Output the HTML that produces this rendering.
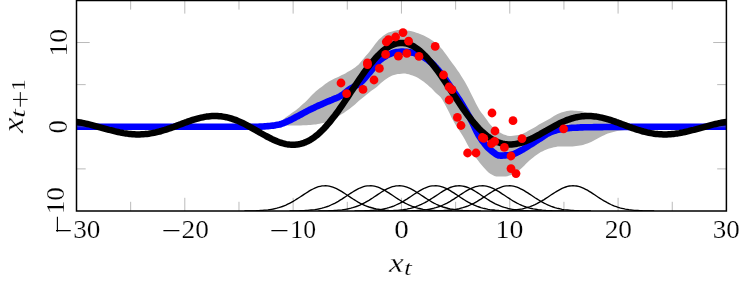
<!DOCTYPE html>
<html><head><meta charset="utf-8"><style>
html,body{margin:0;padding:0;background:#fff}
svg{display:block;position:absolute;left:0;top:0}
text{font-family:"Liberation Serif",serif;fill:#000}
</style></head><body>
<svg width="749" height="285" viewBox="0 0 749 285">
<defs><clipPath id="c"><rect x="76.5" y="0" width="649.9" height="211.0"/></clipPath></defs>
<rect width="749" height="285" fill="#fff"/>
<g clip-path="url(#c)" fill="none">
<path d="M262.0,126.5 L263.9,126.2 L265.7,125.9 L267.6,125.6 L269.4,125.1 L271.3,124.7 L273.2,124.1 L275.0,123.5 L276.9,122.9 L278.7,122.1 L280.6,121.2 L282.5,120.0 L284.3,118.6 L286.2,117.1 L288.0,115.7 L289.9,114.4 L291.7,113.1 L293.6,111.8 L295.5,110.4 L297.3,109.0 L299.2,107.4 L301.0,105.7 L302.9,104.0 L304.8,102.4 L306.6,100.7 L308.5,98.8 L310.3,96.7 L312.2,94.7 L314.1,92.9 L315.9,91.3 L317.8,89.7 L319.6,88.3 L321.5,86.9 L323.4,85.5 L325.2,84.1 L327.1,82.8 L328.9,81.6 L330.8,80.5 L332.7,79.5 L334.5,78.6 L336.4,77.7 L338.2,76.9 L340.1,76.0 L341.9,75.1 L343.8,74.2 L345.7,73.2 L347.5,72.1 L349.4,71.0 L351.2,69.9 L353.1,68.7 L355.0,67.4 L356.8,66.0 L358.7,64.4 L360.5,62.3 L362.4,60.0 L364.3,57.7 L366.1,55.5 L368.0,53.4 L369.8,51.2 L371.7,48.8 L373.6,46.3 L375.4,43.8 L377.3,41.4 L379.1,39.3 L381.0,37.7 L382.9,36.1 L384.7,34.8 L386.6,33.6 L388.4,32.6 L390.3,31.9 L392.2,31.4 L394.0,30.9 L395.9,30.4 L397.7,30.1 L399.6,30.0 L401.4,30.0 L403.3,30.1 L405.2,30.3 L407.0,30.6 L408.9,30.8 L410.7,31.1 L412.6,31.5 L414.5,32.1 L416.3,32.7 L418.2,33.3 L420.0,34.0 L421.9,34.8 L423.8,35.6 L425.6,36.5 L427.5,37.5 L429.3,38.6 L431.2,39.8 L433.1,41.0 L434.9,42.5 L436.8,44.0 L438.6,45.7 L440.5,47.5 L442.4,49.6 L444.2,52.0 L446.1,54.5 L447.9,57.1 L449.8,59.7 L451.6,62.2 L453.5,64.7 L455.4,67.3 L457.2,69.9 L459.1,72.6 L460.9,75.4 L462.8,78.4 L464.7,81.4 L466.5,84.7 L468.4,88.2 L470.2,92.0 L472.1,95.8 L474.0,99.5 L475.8,103.2 L477.7,106.7 L479.5,110.0 L481.4,112.7 L483.3,115.1 L485.1,117.4 L487.0,119.9 L488.8,122.8 L490.7,125.1 L492.6,127.0 L494.4,128.7 L496.3,130.3 L498.1,131.6 L500.0,132.6 L501.8,133.5 L503.7,134.4 L505.6,135.1 L507.4,135.7 L509.3,136.0 L511.1,136.0 L513.0,135.8 L514.9,135.6 L516.7,135.3 L518.6,134.9 L520.4,134.5 L522.3,133.9 L524.2,133.1 L526.0,132.2 L527.9,131.1 L529.7,130.1 L531.6,129.1 L533.5,128.0 L535.3,126.9 L537.2,125.7 L539.0,124.6 L540.9,123.5 L542.8,122.5 L544.6,121.4 L546.5,120.4 L548.3,119.4 L550.2,118.4 L552.1,117.3 L553.9,116.1 L555.8,115.0 L557.6,114.0 L559.5,113.2 L561.3,112.5 L563.2,111.9 L565.1,111.4 L566.9,110.9 L568.8,110.7 L570.6,110.6 L572.5,110.6 L574.4,110.7 L576.2,110.8 L578.1,110.9 L579.9,111.0 L581.8,111.3 L583.7,111.7 L585.5,112.4 L587.4,113.1 L589.2,113.7 L591.1,114.4 L593.0,115.0 L594.8,115.7 L596.7,116.3 L598.5,117.0 L600.4,117.6 L602.3,118.3 L604.1,119.0 L606.0,119.7 L607.8,120.4 L609.7,120.9 L611.5,121.4 L613.4,121.8 L615.3,122.2 L617.1,122.6 L619.0,122.9 L620.8,123.1 L622.7,123.3 L624.6,123.5 L626.4,123.7 L628.3,123.8 L630.1,123.9 L632.0,124.0 L632.0,129.5 L630.1,129.6 L628.3,129.7 L626.4,129.8 L624.6,130.0 L622.7,130.3 L620.8,130.5 L619.0,130.7 L617.1,131.1 L615.3,131.4 L613.4,131.9 L611.5,132.4 L609.7,132.9 L607.8,133.5 L606.0,134.3 L604.1,135.2 L602.3,136.1 L600.4,137.0 L598.5,138.0 L596.7,139.0 L594.8,140.1 L593.0,141.1 L591.1,142.0 L589.2,142.8 L587.4,143.5 L585.5,144.1 L583.7,144.7 L581.8,145.2 L579.9,145.5 L578.1,145.8 L576.2,146.0 L574.4,146.3 L572.5,146.4 L570.6,146.5 L568.8,146.5 L566.9,146.5 L565.1,146.5 L563.2,146.5 L561.3,146.5 L559.5,146.5 L557.6,146.6 L555.8,146.9 L553.9,147.3 L552.1,147.8 L550.2,148.3 L548.3,148.8 L546.5,149.5 L544.6,150.3 L542.8,151.2 L540.9,152.1 L539.0,153.2 L537.2,154.4 L535.3,155.7 L533.5,157.2 L531.6,158.7 L529.7,160.2 L527.9,161.9 L526.0,163.8 L524.2,165.7 L522.3,167.5 L520.4,169.2 L518.6,170.5 L516.7,171.9 L514.9,173.1 L513.0,174.1 L511.1,174.9 L509.3,175.6 L507.4,176.2 L505.6,176.6 L503.7,176.6 L501.8,176.6 L500.0,176.6 L498.1,176.6 L496.3,176.5 L494.4,176.0 L492.6,175.1 L490.7,173.9 L488.8,172.7 L487.0,171.1 L485.1,169.1 L483.3,167.0 L481.4,164.7 L479.5,162.4 L477.7,160.1 L475.8,157.6 L474.0,155.0 L472.1,152.3 L470.2,149.4 L468.4,146.2 L466.5,142.7 L464.7,139.2 L462.8,136.0 L460.9,133.0 L459.1,130.2 L457.2,127.3 L455.4,124.4 L453.5,121.2 L451.6,117.7 L449.8,113.8 L447.9,110.0 L446.1,106.5 L444.2,103.1 L442.4,99.8 L440.5,97.1 L438.6,95.2 L436.8,93.7 L434.9,92.0 L433.1,90.0 L431.2,88.1 L429.3,86.4 L427.5,84.8 L425.6,83.2 L423.8,81.8 L421.9,80.5 L420.0,79.2 L418.2,78.0 L416.3,77.0 L414.5,76.2 L412.6,75.5 L410.7,74.9 L408.9,74.3 L407.0,73.9 L405.2,73.6 L403.3,73.6 L401.4,73.7 L399.6,73.9 L397.7,74.1 L395.9,74.4 L394.0,74.9 L392.2,75.6 L390.3,76.5 L388.4,77.6 L386.6,78.7 L384.7,79.9 L382.9,81.4 L381.0,83.1 L379.1,84.8 L377.3,86.5 L375.4,87.9 L373.6,89.2 L371.7,90.5 L369.8,91.9 L368.0,93.4 L366.1,94.9 L364.3,96.4 L362.4,98.0 L360.5,99.5 L358.7,101.1 L356.8,102.8 L355.0,104.5 L353.1,106.1 L351.2,107.6 L349.4,109.0 L347.5,110.3 L345.7,111.6 L343.8,112.9 L341.9,114.0 L340.1,115.2 L338.2,116.3 L336.4,117.3 L334.5,118.3 L332.7,119.3 L330.8,120.2 L328.9,120.9 L327.1,121.7 L325.2,122.4 L323.4,122.9 L321.5,123.3 L319.6,123.7 L317.8,124.1 L315.9,124.4 L314.1,124.6 L312.2,124.8 L310.3,124.9 L308.5,125.0 L306.6,125.2 L304.8,125.3 L302.9,125.3 L301.0,125.4 L299.2,125.4 L297.3,125.4 L295.5,125.5 L293.6,125.5 L291.7,125.5 L289.9,125.5 L288.0,125.5 L286.2,125.4 L284.3,125.2 L282.5,125.1 L280.6,125.0 L278.7,125.0 L276.9,125.2 L275.0,125.4 L273.2,125.7 L271.3,125.9 L269.4,126.0 L267.6,126.2 L265.7,126.3 L263.9,126.4 L262.0,126.5Z" fill="#b3b3b3"/>
<path d="M72.0,126.8 L73.6,126.8 L75.3,126.8 L76.9,126.8 L78.6,126.8 L80.2,126.8 L81.9,126.8 L83.5,126.8 L85.2,126.8 L86.8,126.8 L88.5,126.8 L90.1,126.8 L91.8,126.8 L93.4,126.8 L95.1,126.8 L96.7,126.8 L98.3,126.8 L100.0,126.8 L101.6,126.8 L103.3,126.8 L104.9,126.8 L106.6,126.8 L108.2,126.8 L109.9,126.8 L111.5,126.8 L113.2,126.8 L114.8,126.8 L116.5,126.8 L118.1,126.8 L119.8,126.8 L121.4,126.8 L123.0,126.8 L124.7,126.8 L126.3,126.8 L128.0,126.8 L129.6,126.8 L131.3,126.8 L132.9,126.8 L134.6,126.8 L136.2,126.8 L137.9,126.8 L139.5,126.8 L141.2,126.8 L142.8,126.8 L144.5,126.8 L146.1,126.8 L147.7,126.8 L149.4,126.8 L151.0,126.8 L152.7,126.8 L154.3,126.8 L156.0,126.8 L157.6,126.8 L159.3,126.8 L160.9,126.8 L162.6,126.8 L164.2,126.8 L165.9,126.8 L167.5,126.8 L169.2,126.8 L170.8,126.8 L172.4,126.8 L174.1,126.8 L175.7,126.8 L177.4,126.8 L179.0,126.8 L180.7,126.8 L182.3,126.8 L184.0,126.8 L185.6,126.8 L187.3,126.8 L188.9,126.8 L190.6,126.8 L192.2,126.8 L193.8,126.8 L195.5,126.8 L197.1,126.8 L198.8,126.8 L200.4,126.8 L202.1,126.8 L203.7,126.8 L205.4,126.8 L207.0,126.8 L208.7,126.8 L210.3,126.8 L212.0,126.8 L213.6,126.8 L215.3,126.8 L216.9,126.8 L218.5,126.8 L220.2,126.8 L221.8,126.8 L223.5,126.8 L225.1,126.8 L226.8,126.8 L228.4,126.8 L230.1,126.8 L231.7,126.8 L233.4,126.8 L235.0,126.8 L236.7,126.8 L238.3,126.8 L240.0,126.8 L241.6,126.8 L243.2,126.8 L244.9,126.8 L246.5,126.8 L248.2,126.8 L249.8,126.8 L251.5,126.8 L253.1,126.8 L254.8,126.8 L256.4,126.8 L258.1,126.7 L259.7,126.6 L261.4,126.6 L263.0,126.5 L264.7,126.4 L266.3,126.3 L267.9,126.1 L269.6,126.0 L271.2,125.8 L272.9,125.6 L274.5,125.4 L276.2,125.1 L277.8,124.8 L279.5,124.5 L281.1,124.0 L282.8,123.4 L284.4,122.7 L286.1,122.0 L287.7,121.2 L289.4,120.5 L291.0,119.7 L292.6,118.9 L294.3,118.0 L295.9,117.1 L297.6,116.3 L299.2,115.4 L300.9,114.5 L302.5,113.6 L304.2,112.7 L305.8,111.8 L307.5,110.9 L309.1,110.1 L310.8,109.3 L312.4,108.5 L314.1,107.7 L315.7,106.9 L317.3,106.1 L319.0,105.4 L320.6,104.7 L322.3,103.9 L323.9,103.2 L325.6,102.5 L327.2,101.8 L328.9,101.1 L330.5,100.4 L332.2,99.8 L333.8,99.1 L335.5,98.4 L337.1,97.7 L338.8,96.9 L340.4,96.1 L342.0,95.1 L343.7,93.9 L345.3,92.6 L347.0,91.2 L348.6,90.0 L350.3,88.8 L351.9,87.8 L353.6,86.9 L355.2,86.0 L356.9,85.1 L358.5,84.1 L360.2,82.9 L361.8,81.4 L363.5,79.7 L365.1,77.8 L366.7,75.9 L368.4,73.9 L370.0,72.0 L371.7,69.9 L373.3,67.8 L375.0,65.6 L376.6,63.5 L378.3,61.6 L379.9,60.1 L381.6,58.8 L383.2,57.6 L384.9,56.6 L386.5,55.6 L388.2,54.8 L389.8,54.1 L391.4,53.5 L393.1,52.9 L394.7,52.4 L396.4,52.1 L398.0,51.9 L399.7,51.7 L401.3,51.6 L403.0,51.6 L404.6,51.7 L406.3,51.8 L407.9,52.0 L409.6,52.1 L411.2,52.4 L412.8,52.7 L414.5,53.2 L416.1,53.8 L417.8,54.4 L419.4,55.1 L421.1,55.8 L422.7,56.6 L424.4,57.6 L426.0,58.7 L427.7,59.8 L429.3,61.1 L431.0,62.4 L432.6,63.9 L434.3,65.6 L435.9,67.4 L437.5,69.3 L439.2,71.2 L440.8,73.3 L442.5,75.3 L444.1,77.5 L445.8,79.8 L447.4,82.2 L449.1,84.6 L450.7,87.0 L452.4,89.4 L454.0,91.9 L455.7,94.3 L457.3,96.8 L459.0,99.3 L460.6,102.0 L462.2,104.6 L463.9,107.4 L465.5,110.1 L467.2,113.0 L468.8,115.9 L470.5,118.9 L472.1,122.1 L473.8,125.6 L475.4,129.0 L477.1,132.4 L478.7,135.4 L480.4,138.0 L482.0,140.4 L483.7,142.6 L485.3,144.7 L486.9,146.6 L488.6,148.3 L490.2,149.7 L491.9,151.1 L493.5,152.4 L495.2,153.7 L496.8,154.7 L498.5,155.4 L500.1,155.6 L501.8,155.6 L503.4,155.5 L505.1,155.4 L506.7,155.3 L508.4,155.2 L510.0,155.0 L511.6,154.7 L513.3,154.2 L514.9,153.5 L516.6,152.7 L518.2,151.9 L519.9,151.1 L521.5,150.2 L523.2,149.3 L524.8,148.3 L526.5,147.2 L528.1,146.2 L529.8,145.1 L531.4,144.1 L533.1,143.1 L534.7,142.0 L536.3,140.9 L538.0,139.9 L539.6,138.8 L541.3,137.8 L542.9,136.7 L544.6,135.6 L546.2,134.5 L547.9,133.5 L549.5,132.7 L551.2,132.0 L552.8,131.4 L554.5,130.9 L556.1,130.3 L557.8,129.9 L559.4,129.5 L561.0,129.2 L562.7,128.9 L564.3,128.6 L566.0,128.4 L567.6,128.2 L569.3,128.1 L570.9,127.9 L572.6,127.8 L574.2,127.7 L575.9,127.7 L577.5,127.6 L579.2,127.5 L580.8,127.4 L582.5,127.4 L584.1,127.3 L585.7,127.3 L587.4,127.2 L589.0,127.2 L590.7,127.2 L592.3,127.2 L594.0,127.1 L595.6,127.1 L597.3,127.1 L598.9,127.1 L600.6,127.1 L602.2,127.1 L603.9,127.0 L605.5,127.0 L607.2,127.0 L608.8,127.0 L610.4,127.0 L612.1,127.0 L613.7,127.0 L615.4,127.0 L617.0,127.0 L618.7,126.9 L620.3,126.9 L622.0,126.9 L623.6,126.9 L625.3,126.9 L626.9,126.9 L628.6,126.9 L630.2,126.9 L631.8,126.9 L633.5,126.9 L635.1,126.9 L636.8,126.9 L638.4,126.9 L640.1,126.9 L641.7,126.9 L643.4,126.9 L645.0,126.9 L646.7,126.9 L648.3,126.8 L650.0,126.8 L651.6,126.8 L653.3,126.8 L654.9,126.8 L656.5,126.8 L658.2,126.8 L659.8,126.8 L661.5,126.8 L663.1,126.8 L664.8,126.8 L666.4,126.8 L668.1,126.8 L669.7,126.8 L671.4,126.8 L673.0,126.8 L674.7,126.8 L676.3,126.8 L678.0,126.8 L679.6,126.8 L681.2,126.8 L682.9,126.8 L684.5,126.8 L686.2,126.8 L687.8,126.8 L689.5,126.8 L691.1,126.8 L692.8,126.8 L694.4,126.8 L696.1,126.8 L697.7,126.8 L699.4,126.8 L701.0,126.8 L702.7,126.8 L704.3,126.8 L705.9,126.8 L707.6,126.8 L709.2,126.8 L710.9,126.8 L712.5,126.8 L714.2,126.8 L715.8,126.8 L717.5,126.8 L719.1,126.8 L720.8,126.8 L722.4,126.8 L724.1,126.8 L725.7,126.8 L727.4,126.8 L729.0,126.8" stroke="#0000ff" stroke-width="6.6" stroke-linejoin="round"/>
<path d="M130.65,211.0 v-9.2 M130.65,0.4 v9.2 M184.81,211.0 v-13.2 M184.81,0.4 v13.2 M238.97,211.0 v-9.2 M238.97,0.4 v9.2 M293.13,211.0 v-13.2 M293.13,0.4 v13.2 M347.29,211.0 v-9.2 M347.29,0.4 v9.2 M401.45,211.0 v-13.2 M401.45,0.4 v13.2 M455.61,211.0 v-9.2 M455.61,0.4 v9.2 M509.77,211.0 v-13.2 M509.77,0.4 v13.2 M563.93,211.0 v-9.2 M563.93,0.4 v9.2 M618.09,211.0 v-13.2 M618.09,0.4 v13.2 M672.25,211.0 v-9.2 M672.25,0.4 v9.2 M76.5,168.88 h9.2 M726.4,168.88 h-9.2 M76.5,126.76 h13.2 M726.4,126.76 h-13.2 M76.5,84.64 h9.2 M726.4,84.64 h-9.2 M76.5,42.52 h13.2 M726.4,42.52 h-13.2" stroke="#808080" stroke-width="0.55"/>
<path d="M76.5,121.9 L78.3,122.2 L80.1,122.5 L81.9,122.8 L83.7,123.2 L85.5,123.6 L87.3,124.0 L89.1,124.4 L90.9,124.8 L92.7,125.3 L94.5,125.8 L96.3,126.3 L98.2,126.8 L100.0,127.3 L101.8,127.8 L103.6,128.3 L105.4,128.8 L107.2,129.3 L109.0,129.8 L110.8,130.2 L112.6,130.7 L114.4,131.2 L116.2,131.6 L118.0,132.0 L119.8,132.4 L121.6,132.7 L123.4,133.1 L125.2,133.4 L127.0,133.6 L128.8,133.9 L130.6,134.0 L132.5,134.2 L134.3,134.3 L136.1,134.4 L137.9,134.4 L139.7,134.4 L141.5,134.3 L143.3,134.2 L145.1,134.1 L146.9,133.9 L148.7,133.7 L150.5,133.4 L152.3,133.1 L154.1,132.8 L155.9,132.4 L157.7,131.9 L159.5,131.5 L161.3,131.0 L163.1,130.4 L165.0,129.9 L166.8,129.3 L168.6,128.7 L170.4,128.1 L172.2,127.4 L174.0,126.8 L175.8,126.1 L177.6,125.4 L179.4,124.7 L181.2,124.1 L183.0,123.4 L184.8,122.7 L186.6,122.1 L188.4,121.4 L190.2,120.8 L192.0,120.2 L193.8,119.6 L195.6,119.1 L197.4,118.6 L199.3,118.1 L201.1,117.7 L202.9,117.3 L204.7,116.9 L206.5,116.6 L208.3,116.4 L210.1,116.2 L211.9,116.1 L213.7,116.0 L215.5,116.0 L217.3,116.0 L219.1,116.2 L220.9,116.3 L222.7,116.6 L224.5,116.9 L226.3,117.2 L228.1,117.6 L229.9,118.1 L231.7,118.7 L233.6,119.3 L235.4,119.9 L237.2,120.6 L239.0,121.4 L240.8,122.2 L242.6,123.0 L244.4,123.9 L246.2,124.8 L248.0,125.8 L249.8,126.8 L251.6,127.8 L253.4,128.8 L255.2,129.8 L257.0,130.9 L258.8,131.9 L260.6,133.0 L262.4,134.0 L264.2,135.0 L266.0,136.0 L267.9,137.0 L269.7,137.9 L271.5,138.9 L273.3,139.7 L275.1,140.5 L276.9,141.3 L278.7,142.0 L280.5,142.6 L282.3,143.2 L284.1,143.6 L285.9,144.1 L287.7,144.4 L289.5,144.6 L291.3,144.7 L293.1,144.8 L294.9,144.7 L296.7,144.6 L298.5,144.3 L300.4,143.9 L302.2,143.4 L304.0,142.8 L305.8,142.1 L307.6,141.3 L309.4,140.4 L311.2,139.3 L313.0,138.1 L314.8,136.8 L316.6,135.4 L318.4,133.9 L320.2,132.3 L322.0,130.5 L323.8,128.7 L325.6,126.8 L327.4,124.7 L329.2,122.6 L331.0,120.4 L332.8,118.1 L334.7,115.7 L336.5,113.3 L338.3,110.8 L340.1,108.2 L341.9,105.6 L343.7,103.0 L345.5,100.3 L347.3,97.6 L349.1,94.9 L350.9,92.1 L352.7,89.4 L354.5,86.7 L356.3,83.9 L358.1,81.2 L359.9,78.6 L361.7,76.0 L363.5,73.4 L365.3,70.9 L367.1,68.4 L369.0,66.1 L370.8,63.8 L372.6,61.6 L374.4,59.5 L376.2,57.4 L378.0,55.5 L379.8,53.8 L381.6,52.1 L383.4,50.5 L385.2,49.1 L387.0,47.9 L388.8,46.7 L390.6,45.7 L392.4,44.9 L394.2,44.2 L396.0,43.6 L397.8,43.3 L399.6,43.0 L401.4,42.9 L403.3,43.0 L405.1,43.3 L406.9,43.6 L408.7,44.2 L410.5,44.9 L412.3,45.7 L414.1,46.7 L415.9,47.9 L417.7,49.1 L419.5,50.5 L421.3,52.1 L423.1,53.8 L424.9,55.5 L426.7,57.4 L428.5,59.5 L430.3,61.6 L432.1,63.8 L433.9,66.1 L435.8,68.5 L437.6,70.9 L439.4,73.4 L441.2,76.0 L443.0,78.6 L444.8,81.3 L446.6,84.0 L448.4,86.7 L450.2,89.4 L452.0,92.1 L453.8,94.9 L455.6,97.6 L457.4,100.3 L459.2,103.0 L461.0,105.7 L462.8,108.3 L464.6,110.8 L466.4,113.3 L468.2,115.8 L470.1,118.1 L471.9,120.4 L473.7,122.6 L475.5,124.7 L477.3,126.8 L479.1,128.7 L480.9,130.5 L482.7,132.2 L484.5,133.8 L486.3,135.3 L488.1,136.7 L489.9,138.0 L491.7,139.1 L493.5,140.1 L495.3,141.1 L497.1,141.9 L498.9,142.5 L500.7,143.1 L502.5,143.6 L504.4,144.0 L506.2,144.2 L508.0,144.4 L509.8,144.4 L511.6,144.4 L513.4,144.2 L515.2,144.0 L517.0,143.7 L518.8,143.3 L520.6,142.9 L522.4,142.3 L524.2,141.7 L526.0,141.1 L527.8,140.3 L529.6,139.5 L531.4,138.7 L533.2,137.8 L535.0,136.9 L536.9,135.9 L538.7,135.0 L540.5,133.9 L542.3,132.9 L544.1,131.9 L545.9,130.9 L547.7,129.8 L549.5,128.8 L551.3,127.8 L553.1,126.8 L554.9,125.8 L556.7,124.8 L558.5,123.9 L560.3,123.0 L562.1,122.2 L563.9,121.4 L565.7,120.6 L567.5,119.9 L569.3,119.3 L571.2,118.7 L573.0,118.1 L574.8,117.6 L576.6,117.2 L578.4,116.9 L580.2,116.6 L582.0,116.3 L583.8,116.2 L585.6,116.1 L587.4,116.0 L589.2,116.0 L591.0,116.1 L592.8,116.2 L594.6,116.4 L596.4,116.6 L598.2,116.9 L600.0,117.3 L601.8,117.7 L603.6,118.1 L605.5,118.6 L607.3,119.1 L609.1,119.6 L610.9,120.2 L612.7,120.8 L614.5,121.4 L616.3,122.1 L618.1,122.7 L619.9,123.4 L621.7,124.1 L623.5,124.7 L625.3,125.4 L627.1,126.1 L628.9,126.8 L630.7,127.4 L632.5,128.1 L634.3,128.7 L636.1,129.3 L637.9,129.9 L639.8,130.4 L641.6,131.0 L643.4,131.5 L645.2,131.9 L647.0,132.4 L648.8,132.8 L650.6,133.1 L652.4,133.4 L654.2,133.7 L656.0,133.9 L657.8,134.1 L659.6,134.2 L661.4,134.3 L663.2,134.4 L665.0,134.4 L666.8,134.4 L668.6,134.3 L670.4,134.2 L672.2,134.0 L674.1,133.9 L675.9,133.6 L677.7,133.4 L679.5,133.1 L681.3,132.7 L683.1,132.4 L684.9,132.0 L686.7,131.6 L688.5,131.2 L690.3,130.7 L692.1,130.2 L693.9,129.8 L695.7,129.3 L697.5,128.8 L699.3,128.3 L701.1,127.8 L702.9,127.3 L704.7,126.8 L706.6,126.3 L708.4,125.8 L710.2,125.3 L712.0,124.8 L713.8,124.4 L715.6,124.0 L717.4,123.6 L719.2,123.2 L721.0,122.8 L722.8,122.5 L724.6,122.2 L726.4,121.9" stroke="#000" stroke-width="6.5" stroke-linejoin="round"/>
<g fill="#ff0000"><circle cx="341" cy="83" r="4.4"/><circle cx="346.6" cy="93.6" r="4.4"/><circle cx="363" cy="89.4" r="4.4"/><circle cx="367.4" cy="62.8" r="4.4"/><circle cx="367.5" cy="64.6" r="4.4"/><circle cx="374" cy="80" r="4.4"/><circle cx="379.4" cy="68.4" r="4.4"/><circle cx="385.6" cy="54.4" r="4.4"/><circle cx="386.3" cy="41.8" r="4.4"/><circle cx="388.5" cy="39.6" r="4.4"/><circle cx="395.6" cy="37" r="4.4"/><circle cx="403" cy="32.6" r="4.4"/><circle cx="398.4" cy="56.2" r="4.4"/><circle cx="406.8" cy="53.4" r="4.4"/><circle cx="408.6" cy="41.2" r="4.4"/><circle cx="419" cy="56.4" r="4.4"/><circle cx="435.2" cy="46.4" r="4.4"/><circle cx="443.5" cy="75" r="4.4"/><circle cx="449" cy="87" r="4.4"/><circle cx="452" cy="89.6" r="4.4"/><circle cx="449.1" cy="100" r="4.4"/><circle cx="457.4" cy="117.4" r="4.4"/><circle cx="461" cy="125.5" r="4.4"/><circle cx="467.6" cy="153" r="4.4"/><circle cx="476" cy="153" r="4.4"/><circle cx="492" cy="113" r="4.4"/><circle cx="482.3" cy="137.5" r="4.4"/><circle cx="483.8" cy="138.3" r="4.4"/><circle cx="495" cy="131" r="4.4"/><circle cx="491.4" cy="143.6" r="4.4"/><circle cx="494.6" cy="141.4" r="4.4"/><circle cx="504.4" cy="147.4" r="4.4"/><circle cx="511" cy="156" r="4.4"/><circle cx="513" cy="120.7" r="4.4"/><circle cx="522" cy="138.6" r="4.4"/><circle cx="563.6" cy="128.8" r="4.4"/><circle cx="511" cy="168.6" r="4.4"/><circle cx="516" cy="173.6" r="4.4"/></g>
<g stroke="#000" stroke-width="1.35"><path d="M244.4,210.9 L246.2,210.9 L248.0,210.9 L249.8,210.9 L251.6,210.8 L253.4,210.8 L255.2,210.8 L257.0,210.7 L258.8,210.6 L260.6,210.5 L262.4,210.4 L264.2,210.2 L266.0,210.1 L267.9,209.9 L269.7,209.6 L271.5,209.3 L273.3,209.0 L275.1,208.6 L276.9,208.2 L278.7,207.7 L280.5,207.1 L282.3,206.5 L284.1,205.8 L285.9,205.1 L287.7,204.2 L289.5,203.3 L291.3,202.4 L293.1,201.4 L294.9,200.3 L296.7,199.1 L298.5,198.0 L300.4,196.8 L302.2,195.6 L304.0,194.4 L305.8,193.2 L307.6,192.1 L309.4,190.9 L311.2,189.9 L313.0,189.0 L314.8,188.1 L316.6,187.4 L318.4,186.7 L320.2,186.3 L322.0,185.9 L323.8,185.8 L325.6,185.7 L327.4,185.9 L329.2,186.2 L331.0,186.6 L332.8,187.2 L334.7,187.9 L336.5,188.7 L338.3,189.6 L340.1,190.6 L341.9,191.7 L343.7,192.8 L345.5,194.0 L347.3,195.2 L349.1,196.4 L350.9,197.6 L352.7,198.8 L354.5,199.9 L356.3,201.0 L358.1,202.1 L359.9,203.1 L361.7,204.0 L363.5,204.8 L365.3,205.6 L367.1,206.3 L369.0,207.0 L370.8,207.5 L372.6,208.0 L374.4,208.5 L376.2,208.9 L378.0,209.2 L379.8,209.5 L381.6,209.8 L383.4,210.0 L385.2,210.2 L387.0,210.3 L388.8,210.5 L390.6,210.6 L392.4,210.7 L394.2,210.7 L396.0,210.8 L397.8,210.8 L399.6,210.9 L401.4,210.9 L403.3,210.9 L405.1,210.9 L406.9,211.0"/><path d="M289.5,210.9 L291.3,210.9 L293.1,210.9 L294.9,210.9 L296.7,210.8 L298.5,210.8 L300.4,210.7 L302.2,210.7 L304.0,210.6 L305.8,210.5 L307.6,210.4 L309.4,210.2 L311.2,210.0 L313.0,209.8 L314.8,209.6 L316.6,209.3 L318.4,209.0 L320.2,208.6 L322.0,208.2 L323.8,207.7 L325.6,207.1 L327.4,206.5 L329.2,205.8 L331.0,205.0 L332.8,204.2 L334.7,203.3 L336.5,202.3 L338.3,201.3 L340.1,200.2 L341.9,199.1 L343.7,197.9 L345.5,196.7 L347.3,195.5 L349.1,194.3 L350.9,193.1 L352.7,192.0 L354.5,190.9 L356.3,189.8 L358.1,188.9 L359.9,188.0 L361.7,187.3 L363.5,186.7 L365.3,186.2 L367.1,185.9 L369.0,185.8 L370.8,185.7 L372.6,185.9 L374.4,186.2 L376.2,186.6 L378.0,187.2 L379.8,187.9 L381.6,188.8 L383.4,189.7 L385.2,190.7 L387.0,191.8 L388.8,192.9 L390.6,194.1 L392.4,195.3 L394.2,196.5 L396.0,197.7 L397.8,198.9 L399.6,200.0 L401.4,201.1 L403.3,202.1 L405.1,203.1 L406.9,204.0 L408.7,204.9 L410.5,205.7 L412.3,206.4 L414.1,207.0 L415.9,207.6 L417.7,208.1 L419.5,208.5 L421.3,208.9 L423.1,209.3 L424.9,209.6 L426.7,209.8 L428.5,210.0 L430.3,210.2 L432.1,210.4 L433.9,210.5 L435.8,210.6 L437.6,210.7 L439.4,210.7 L441.2,210.8 L443.0,210.8 L444.8,210.9 L446.6,210.9 L448.4,210.9 L450.2,210.9 L452.0,211.0"/><path d="M318.4,210.9 L320.2,210.9 L322.0,210.9 L323.8,210.9 L325.6,210.8 L327.4,210.8 L329.2,210.7 L331.0,210.7 L332.8,210.6 L334.7,210.5 L336.5,210.4 L338.3,210.2 L340.1,210.1 L341.9,209.9 L343.7,209.6 L345.5,209.3 L347.3,209.0 L349.1,208.6 L350.9,208.2 L352.7,207.7 L354.5,207.1 L356.3,206.5 L358.1,205.8 L359.9,205.1 L361.7,204.2 L363.5,203.3 L365.3,202.4 L367.1,201.3 L369.0,200.3 L370.8,199.1 L372.6,198.0 L374.4,196.8 L376.2,195.6 L378.0,194.4 L379.8,193.2 L381.6,192.0 L383.4,190.9 L385.2,189.9 L387.0,188.9 L388.8,188.1 L390.6,187.4 L392.4,186.7 L394.2,186.3 L396.0,185.9 L397.8,185.8 L399.6,185.7 L401.4,185.9 L403.3,186.2 L405.1,186.6 L406.9,187.2 L408.7,187.9 L410.5,188.7 L412.3,189.6 L414.1,190.6 L415.9,191.7 L417.7,192.9 L419.5,194.0 L421.3,195.2 L423.1,196.4 L424.9,197.6 L426.7,198.8 L428.5,199.9 L430.3,201.0 L432.1,202.1 L433.9,203.1 L435.8,204.0 L437.6,204.8 L439.4,205.6 L441.2,206.3 L443.0,207.0 L444.8,207.5 L446.6,208.0 L448.4,208.5 L450.2,208.9 L452.0,209.2 L453.8,209.5 L455.6,209.8 L457.4,210.0 L459.2,210.2 L461.0,210.3 L462.8,210.5 L464.6,210.6 L466.4,210.7 L468.2,210.7 L470.1,210.8 L471.9,210.8 L473.7,210.9 L475.5,210.9 L477.3,210.9 L479.1,210.9 L480.9,211.0"/><path d="M354.5,210.9 L356.3,210.9 L358.1,210.9 L359.9,210.9 L361.7,210.8 L363.5,210.8 L365.3,210.7 L367.1,210.7 L369.0,210.6 L370.8,210.5 L372.6,210.4 L374.4,210.2 L376.2,210.0 L378.0,209.8 L379.8,209.6 L381.6,209.3 L383.4,209.0 L385.2,208.6 L387.0,208.2 L388.8,207.7 L390.6,207.1 L392.4,206.5 L394.2,205.8 L396.0,205.0 L397.8,204.2 L399.6,203.3 L401.4,202.3 L403.3,201.3 L405.1,200.2 L406.9,199.1 L408.7,197.9 L410.5,196.7 L412.3,195.5 L414.1,194.3 L415.9,193.1 L417.7,192.0 L419.5,190.9 L421.3,189.8 L423.1,188.9 L424.9,188.0 L426.7,187.3 L428.5,186.7 L430.3,186.2 L432.1,185.9 L433.9,185.8 L435.8,185.7 L437.6,185.9 L439.4,186.2 L441.2,186.6 L443.0,187.2 L444.8,187.9 L446.6,188.7 L448.4,189.7 L450.2,190.7 L452.0,191.8 L453.8,192.9 L455.6,194.1 L457.4,195.3 L459.2,196.5 L461.0,197.7 L462.8,198.9 L464.6,200.0 L466.4,201.1 L468.2,202.1 L470.1,203.1 L471.9,204.0 L473.7,204.9 L475.5,205.7 L477.3,206.4 L479.1,207.0 L480.9,207.6 L482.7,208.1 L484.5,208.5 L486.3,208.9 L488.1,209.3 L489.9,209.6 L491.7,209.8 L493.5,210.0 L495.3,210.2 L497.1,210.3 L498.9,210.5 L500.7,210.6 L502.5,210.7 L504.4,210.7 L506.2,210.8 L508.0,210.8 L509.8,210.9 L511.6,210.9 L513.4,210.9 L515.2,210.9 L517.0,211.0"/><path d="M378.0,210.9 L379.8,210.9 L381.6,210.9 L383.4,210.9 L385.2,210.9 L387.0,210.8 L388.8,210.8 L390.6,210.7 L392.4,210.6 L394.2,210.5 L396.0,210.4 L397.8,210.3 L399.6,210.1 L401.4,209.9 L403.3,209.7 L405.1,209.4 L406.9,209.1 L408.7,208.7 L410.5,208.3 L412.3,207.8 L414.1,207.3 L415.9,206.7 L417.7,206.0 L419.5,205.2 L421.3,204.4 L423.1,203.5 L424.9,202.6 L426.7,201.6 L428.5,200.5 L430.3,199.4 L432.1,198.2 L433.9,197.1 L435.8,195.9 L437.6,194.7 L439.4,193.5 L441.2,192.3 L443.0,191.2 L444.8,190.1 L446.6,189.2 L448.4,188.3 L450.2,187.5 L452.0,186.9 L453.8,186.4 L455.6,186.0 L457.4,185.8 L459.2,185.7 L461.0,185.8 L462.8,186.1 L464.6,186.5 L466.4,187.0 L468.2,187.7 L470.1,188.5 L471.9,189.4 L473.7,190.4 L475.5,191.5 L477.3,192.6 L479.1,193.8 L480.9,195.0 L482.7,196.2 L484.5,197.4 L486.3,198.5 L488.1,199.7 L489.9,200.8 L491.7,201.8 L493.5,202.8 L495.3,203.8 L497.1,204.6 L498.9,205.4 L500.7,206.2 L502.5,206.8 L504.4,207.4 L506.2,207.9 L508.0,208.4 L509.8,208.8 L511.6,209.2 L513.4,209.5 L515.2,209.7 L517.0,210.0 L518.8,210.1 L520.6,210.3 L522.4,210.4 L524.2,210.6 L526.0,210.6 L527.8,210.7 L529.6,210.8 L531.4,210.8 L533.2,210.9 L535.0,210.9 L536.9,210.9 L538.7,210.9 L540.5,211.0"/><path d="M401.4,210.9 L403.3,210.9 L405.1,210.9 L406.9,210.9 L408.7,210.8 L410.5,210.8 L412.3,210.7 L414.1,210.7 L415.9,210.6 L417.7,210.5 L419.5,210.4 L421.3,210.2 L423.1,210.1 L424.9,209.8 L426.7,209.6 L428.5,209.3 L430.3,209.0 L432.1,208.6 L433.9,208.2 L435.8,207.7 L437.6,207.1 L439.4,206.5 L441.2,205.8 L443.0,205.0 L444.8,204.2 L446.6,203.3 L448.4,202.3 L450.2,201.3 L452.0,200.2 L453.8,199.1 L455.6,197.9 L457.4,196.8 L459.2,195.5 L461.0,194.3 L462.8,193.2 L464.6,192.0 L466.4,190.9 L468.2,189.9 L470.1,188.9 L471.9,188.1 L473.7,187.3 L475.5,186.7 L477.3,186.3 L479.1,185.9 L480.9,185.8 L482.7,185.7 L484.5,185.9 L486.3,186.2 L488.1,186.6 L489.9,187.2 L491.7,187.9 L493.5,188.7 L495.3,189.6 L497.1,190.7 L498.9,191.7 L500.7,192.9 L502.5,194.1 L504.4,195.3 L506.2,196.5 L508.0,197.7 L509.8,198.8 L511.6,200.0 L513.4,201.1 L515.2,202.1 L517.0,203.1 L518.8,204.0 L520.6,204.8 L522.4,205.6 L524.2,206.3 L526.0,207.0 L527.8,207.5 L529.6,208.1 L531.4,208.5 L533.2,208.9 L535.0,209.2 L536.9,209.5 L538.7,209.8 L540.5,210.0 L542.3,210.2 L544.1,210.3 L545.9,210.5 L547.7,210.6 L549.5,210.7 L551.3,210.7 L553.1,210.8 L554.9,210.8 L556.7,210.9 L558.5,210.9 L560.3,210.9 L562.1,210.9 L563.9,211.0"/><path d="M428.5,210.9 L430.3,210.9 L432.1,210.9 L433.9,210.9 L435.8,210.8 L437.6,210.8 L439.4,210.7 L441.2,210.7 L443.0,210.6 L444.8,210.5 L446.6,210.4 L448.4,210.2 L450.2,210.0 L452.0,209.8 L453.8,209.6 L455.6,209.3 L457.4,209.0 L459.2,208.6 L461.0,208.1 L462.8,207.7 L464.6,207.1 L466.4,206.5 L468.2,205.8 L470.1,205.0 L471.9,204.2 L473.7,203.3 L475.5,202.3 L477.3,201.3 L479.1,200.2 L480.9,199.1 L482.7,197.9 L484.5,196.7 L486.3,195.5 L488.1,194.3 L489.9,193.1 L491.7,192.0 L493.5,190.9 L495.3,189.8 L497.1,188.9 L498.9,188.0 L500.7,187.3 L502.5,186.7 L504.4,186.2 L506.2,185.9 L508.0,185.8 L509.8,185.7 L511.6,185.9 L513.4,186.2 L515.2,186.6 L517.0,187.2 L518.8,187.9 L520.6,188.8 L522.4,189.7 L524.2,190.7 L526.0,191.8 L527.8,192.9 L529.6,194.1 L531.4,195.3 L533.2,196.5 L535.0,197.7 L536.9,198.9 L538.7,200.0 L540.5,201.1 L542.3,202.1 L544.1,203.1 L545.9,204.0 L547.7,204.9 L549.5,205.7 L551.3,206.4 L553.1,207.0 L554.9,207.6 L556.7,208.1 L558.5,208.5 L560.3,208.9 L562.1,209.3 L563.9,209.6 L565.7,209.8 L567.5,210.0 L569.3,210.2 L571.2,210.4 L573.0,210.5 L574.8,210.6 L576.6,210.7 L578.4,210.7 L580.2,210.8 L582.0,210.8 L583.8,210.9 L585.6,210.9 L587.4,210.9 L589.2,210.9 L591.0,211.0"/><path d="M491.7,211.0 L493.5,210.9 L495.3,210.9 L497.1,210.9 L498.9,210.9 L500.7,210.8 L502.5,210.8 L504.4,210.7 L506.2,210.6 L508.0,210.5 L509.8,210.4 L511.6,210.3 L513.4,210.1 L515.2,209.9 L517.0,209.7 L518.8,209.4 L520.6,209.1 L522.4,208.8 L524.2,208.4 L526.0,207.9 L527.8,207.4 L529.6,206.8 L531.4,206.1 L533.2,205.4 L535.0,204.6 L536.9,203.7 L538.7,202.7 L540.5,201.7 L542.3,200.7 L544.1,199.6 L545.9,198.4 L547.7,197.2 L549.5,196.0 L551.3,194.8 L553.1,193.6 L554.9,192.5 L556.7,191.4 L558.5,190.3 L560.3,189.3 L562.1,188.4 L563.9,187.6 L565.7,187.0 L567.5,186.4 L569.3,186.0 L571.2,185.8 L573.0,185.7 L574.8,185.8 L576.6,186.0 L578.4,186.4 L580.2,186.9 L582.0,187.6 L583.8,188.4 L585.6,189.3 L587.4,190.2 L589.2,191.3 L591.0,192.4 L592.8,193.6 L594.6,194.8 L596.4,196.0 L598.2,197.2 L600.0,198.4 L601.8,199.5 L603.6,200.6 L605.5,201.7 L607.3,202.7 L609.1,203.6 L610.9,204.5 L612.7,205.3 L614.5,206.1 L616.3,206.7 L618.1,207.3 L619.9,207.9 L621.7,208.3 L623.5,208.7 L625.3,209.1 L627.1,209.4 L628.9,209.7 L630.7,209.9 L632.5,210.1 L634.3,210.3 L636.1,210.4 L637.9,210.5 L639.8,210.6 L641.6,210.7 L643.4,210.8 L645.2,210.8 L647.0,210.9 L648.8,210.9 L650.6,210.9 L652.4,210.9 L654.2,211.0"/></g>
</g>
<path d="M76.5,0.4 H726.4 V211.0 H76.5 Z" fill="none" stroke="#000" stroke-width="1.5"/>
<g opacity="0.999">
<text transform="matrix(0.2727,0,0,0.2549,73.23,237.85)" font-size="100" stroke="#fff" stroke-width="0.8">30</text>
<text transform="matrix(0.2734,0,0,0.2549,181.56,237.85)" font-size="100" stroke="#fff" stroke-width="0.8">20</text>
<text transform="matrix(0.2575,0,0,0.2549,290.28,237.85)" font-size="100" stroke="#fff" stroke-width="0.8">10</text>
<text transform="matrix(0.2913,0,0,0.2549,394.22,237.85)" font-size="100" stroke="#fff" stroke-width="0.8">0</text>
<text transform="matrix(0.2784,0,0,0.2549,495.58,237.85)" font-size="100" stroke="#fff" stroke-width="0.8">10</text>
<text transform="matrix(0.2745,0,0,0.2549,604.65,237.85)" font-size="100" stroke="#fff" stroke-width="0.8">20</text>
<text transform="matrix(0.2705,0,0,0.2549,712.74,237.85)" font-size="100" stroke="#fff" stroke-width="0.8">30</text>
<path d="M56,230.6 H70.7 M163.4,230.6 H179.4 M271.4,230.6 H287.4 M57.4,216.7 V231.7" stroke="#000" stroke-width="1.1" fill="none"/>
<text transform="matrix(0,-0.2773,0.2594,0,66.54,56.61)" font-size="100" stroke="#fff" stroke-width="0.8">10</text>
<text transform="matrix(0,-0.2694,0.2654,0,66.64,133.59)" font-size="100" stroke="#fff" stroke-width="0.8">0</text>
<text transform="matrix(0,-0.2703,0.2594,0,63.84,214.24)" font-size="100" stroke="#fff" stroke-width="0.8">10</text>
<text transform="matrix(0,-0.3425,0.3022,0,22.85,132.83)" font-size="100" font-style="italic" stroke="#fff" stroke-width="1.0">x</text>
<text transform="matrix(0,-0.3167,0.2071,0,25.00,117.88)" font-size="100" font-style="italic" stroke="#fff" stroke-width="1.0">t</text>
<text transform="matrix(0,-0.2339,0.1825,0,25.17,90.90)" font-size="100" stroke="#fff" stroke-width="0.8">1</text>
<path d="M20.3,92.1 V106.7 M13,99.4 H27.6" stroke="#000" stroke-width="1" fill="none"/>
<text transform="matrix(0.3333,0,0,0.2822,389.07,271.74)" font-size="100" font-style="italic" stroke="#fff" stroke-width="1.0">x</text>
<text transform="matrix(0.2792,0,0,0.2000,404.00,274.90)" font-size="100" font-style="italic" stroke="#fff" stroke-width="1.0">t</text>
</g>
</svg>
</body></html>
